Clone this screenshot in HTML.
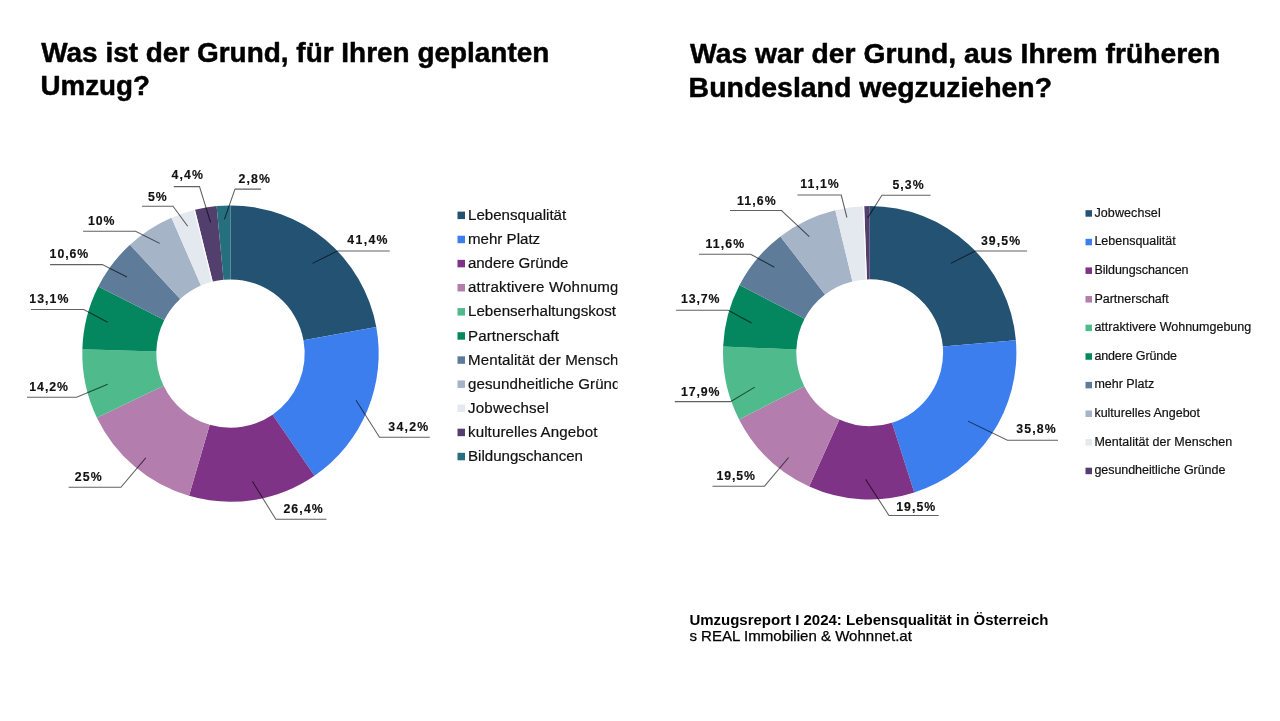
<!DOCTYPE html>
<html><head><meta charset="utf-8"><title>Umzugsreport</title>
<style>html,body{margin:0;padding:0;background:#fff;width:1280px;height:721px;overflow:hidden;}svg{display:block;will-change:transform;}</style>
</head><body>
<svg width="1280" height="721" viewBox="0 0 1280 721">
<defs><clipPath id="cl"><rect x="0" y="0" width="617.5" height="721"/></clipPath></defs>
<style>
text{font-family:"Liberation Sans",sans-serif;fill:#111;}
.t{font-weight:bold;font-size:28.5px;fill:#000;stroke:#000;stroke-width:0.5px;stroke-linejoin:round;}
.lab{font-weight:bold;font-size:12.3px;fill:#111;stroke:#111;stroke-width:0.15px;stroke-linejoin:round;}
.lgL{font-size:15.1px;fill:#111;stroke:#111;stroke-width:0.2px;}
.lgR{font-size:12.5px;fill:#111;stroke:#111;stroke-width:0.2px;}
.f1{font-weight:bold;font-size:15px;fill:#000;}
.f2{font-size:14.2px;fill:#000;stroke:#000;stroke-width:0.25px;}
</style>
<rect width="1280" height="721" fill="#fff"/>
<text class="t" x="41.25" y="61.5" textLength="508.1" lengthAdjust="spacingAndGlyphs">Was ist der Grund, für Ihren geplanten</text>
<text class="t" x="40.5" y="95.25" textLength="109.5" lengthAdjust="spacingAndGlyphs">Umzug?</text>
<text class="t" x="690" y="62.7" textLength="530.2" lengthAdjust="spacingAndGlyphs">Was war der Grund, aus Ihrem früheren</text>
<text class="t" x="688.6" y="96.6" textLength="363.5" lengthAdjust="spacingAndGlyphs">Bundesland wegzuziehen?</text>
<path d="M230.50 205.40A148.2 148.2 0 0 1 376.29 326.99L303.49 340.28A74.2 74.2 0 0 0 230.50 279.40Z" fill="#245273" stroke="none"/>
<path d="M376.29 326.99A148.2 148.2 0 0 1 314.52 475.68L272.57 414.72A74.2 74.2 0 0 0 303.49 340.28Z" fill="#3D7EEE" stroke="none"/>
<path d="M314.52 475.68A148.2 148.2 0 0 1 189.01 495.87L209.73 424.83A74.2 74.2 0 0 0 272.57 414.72Z" fill="#7F3386" stroke="none"/>
<path d="M189.01 495.87A148.2 148.2 0 0 1 96.89 417.73L163.61 385.71A74.2 74.2 0 0 0 209.73 424.83Z" fill="#B37DAD" stroke="none"/>
<path d="M96.89 417.73A148.2 148.2 0 0 1 82.36 349.25L156.33 351.42A74.2 74.2 0 0 0 163.61 385.71Z" fill="#4FBB8C" stroke="none"/>
<path d="M82.36 349.25A148.2 148.2 0 0 1 98.32 286.57L164.32 320.04A74.2 74.2 0 0 0 156.33 351.42Z" fill="#04865F" stroke="none"/>
<path d="M98.32 286.57A148.2 148.2 0 0 1 129.97 244.71L180.17 299.08A74.2 74.2 0 0 0 164.32 320.04Z" fill="#5E7B99" stroke="none"/>
<path d="M129.97 244.71A148.2 148.2 0 0 1 171.47 217.66L200.94 285.54A74.2 74.2 0 0 0 180.17 299.08Z" fill="#A5B4C6" stroke="none"/>
<path d="M171.47 217.66A148.2 148.2 0 0 1 195.01 209.71L212.73 281.56A74.2 74.2 0 0 0 200.94 285.54Z" fill="#E4E8EF" stroke="none"/>
<path d="M195.01 209.71A148.2 148.2 0 0 1 216.59 206.05L223.53 279.73A74.2 74.2 0 0 0 212.73 281.56Z" fill="#523F6E" stroke="none"/>
<line x1="212.15" y1="281.70" x2="194.19" y2="208.88" stroke="#fff" stroke-width="1.1"/>
<path d="M216.59 206.05A148.2 148.2 0 0 1 230.50 205.40L230.50 279.40A74.2 74.2 0 0 0 223.53 279.73Z" fill="#276E7E" stroke="none"/>
<path d="M869.70 206.05A146.7 146.7 0 0 1 1015.87 340.35L942.84 346.54A73.4 73.4 0 0 0 869.70 279.35Z" fill="#245273" stroke="none"/>
<path d="M1015.87 340.35A146.7 146.7 0 0 1 914.24 492.52L891.99 422.68A73.4 73.4 0 0 0 942.84 346.54Z" fill="#3D7EEE" stroke="none"/>
<path d="M914.24 492.52A146.7 146.7 0 0 1 809.19 486.39L839.43 419.62A73.4 73.4 0 0 0 891.99 422.68Z" fill="#7F3386" stroke="none"/>
<path d="M809.19 486.39A146.7 146.7 0 0 1 739.05 419.47L804.33 386.13A73.4 73.4 0 0 0 839.43 419.62Z" fill="#B37DAD" stroke="none"/>
<path d="M739.05 419.47A146.7 146.7 0 0 1 723.14 346.40L796.37 349.58A73.4 73.4 0 0 0 804.33 386.13Z" fill="#4FBB8C" stroke="none"/>
<path d="M723.14 346.40A146.7 146.7 0 0 1 739.56 285.05L804.58 318.87A73.4 73.4 0 0 0 796.37 349.58Z" fill="#04865F" stroke="none"/>
<path d="M739.56 285.05A146.7 146.7 0 0 1 780.38 236.38L825.01 294.52A73.4 73.4 0 0 0 804.58 318.87Z" fill="#5E7B99" stroke="none"/>
<path d="M780.38 236.38A146.7 146.7 0 0 1 835.25 210.15L852.46 281.40A73.4 73.4 0 0 0 825.01 294.52Z" fill="#A5B4C6" stroke="none"/>
<path d="M835.25 210.15A146.7 146.7 0 0 1 864.18 206.15L866.94 279.40A73.4 73.4 0 0 0 852.46 281.40Z" fill="#E4E8EF" stroke="none"/>
<path d="M864.18 206.15A146.7 146.7 0 0 1 869.70 206.05L869.70 279.35A73.4 73.4 0 0 0 866.94 279.40Z" fill="#523F6E" stroke="none"/>
<line x1="866.34" y1="279.42" x2="863.54" y2="205.18" stroke="#fff" stroke-width="1.1"/>
<polyline points="312.5,263.4 337.5,250.9 389.8,250.9" fill="none" stroke="rgba(0,0,0,0.62)" stroke-width="1.05"/>
<text x="347.30" y="243.8" class="lab" textLength="40.2" lengthAdjust="spacing">41,4%</text>
<polyline points="356,400.2 379.5,437.3 429.8,437.3" fill="none" stroke="rgba(0,0,0,0.62)" stroke-width="1.05"/>
<text x="388.30" y="430.8" class="lab" textLength="40.0" lengthAdjust="spacing">34,2%</text>
<polyline points="252.3,481.2 275.8,519.3 326.5,519.3" fill="none" stroke="rgba(0,0,0,0.62)" stroke-width="1.05"/>
<text x="283.40" y="513.3" class="lab" textLength="39.4" lengthAdjust="spacing">26,4%</text>
<polyline points="145.8,457.8 120.9,487.3 68.6,487.3" fill="none" stroke="rgba(0,0,0,0.62)" stroke-width="1.05"/>
<text x="74.80" y="480.6" class="lab" textLength="27.0" lengthAdjust="spacing">25%</text>
<polyline points="107.7,384.2 76.6,397.2 27,397.2" fill="none" stroke="rgba(0,0,0,0.62)" stroke-width="1.05"/>
<text x="29.30" y="390.9" class="lab" textLength="38.7" lengthAdjust="spacing">14,2%</text>
<polyline points="107.7,322.2 83.7,309.5 30.9,309.5" fill="none" stroke="rgba(0,0,0,0.62)" stroke-width="1.05"/>
<text x="29.30" y="303" class="lab" textLength="39.1" lengthAdjust="spacing">13,1%</text>
<polyline points="127,277 102.3,264.6 50.1,264.6" fill="none" stroke="rgba(0,0,0,0.62)" stroke-width="1.05"/>
<text x="49.60" y="257.8" class="lab" textLength="38.7" lengthAdjust="spacing">10,6%</text>
<polyline points="159.7,243.4 135.6,231.2 83.1,231.2" fill="none" stroke="rgba(0,0,0,0.62)" stroke-width="1.05"/>
<text x="88.05" y="225.2" class="lab" textLength="26.4" lengthAdjust="spacing">10%</text>
<polyline points="187.7,226.2 173,206.3 142.1,206.3" fill="none" stroke="rgba(0,0,0,0.62)" stroke-width="1.05"/>
<text x="148.05" y="200.8" class="lab" textLength="18.6" lengthAdjust="spacing">5%</text>
<polyline points="210.6,222.5 199.5,186.6 173.75,186.6" fill="none" stroke="rgba(0,0,0,0.62)" stroke-width="1.05"/>
<text x="171.50" y="179.1" class="lab" textLength="31.5" lengthAdjust="spacing">4,4%</text>
<polyline points="224.4,219.4 235,189.1 261.1,189.1" fill="none" stroke="rgba(0,0,0,0.62)" stroke-width="1.05"/>
<text x="238.40" y="182.5" class="lab" textLength="31.5" lengthAdjust="spacing">2,8%</text>
<polyline points="950.9,263.4 975.2,251 1027.1,251" fill="none" stroke="rgba(0,0,0,0.62)" stroke-width="1.05"/>
<text x="980.90" y="244.8" class="lab" textLength="39.2" lengthAdjust="spacing">39,5%</text>
<polyline points="967.9,421.1 1007.4,440.2 1058,440.2" fill="none" stroke="rgba(0,0,0,0.62)" stroke-width="1.05"/>
<text x="1016.20" y="433.3" class="lab" textLength="39.4" lengthAdjust="spacing">35,8%</text>
<polyline points="865.6,479.4 889,515.5 938.7,515.5" fill="none" stroke="rgba(0,0,0,0.62)" stroke-width="1.05"/>
<text x="896.20" y="510.5" class="lab" textLength="39.0" lengthAdjust="spacing">19,5%</text>
<polyline points="788.6,457.5 764.5,486.2 712.5,486.2" fill="none" stroke="rgba(0,0,0,0.62)" stroke-width="1.05"/>
<text x="716.40" y="479.5" class="lab" textLength="38.5" lengthAdjust="spacing">19,5%</text>
<polyline points="754.8,387.1 730.5,401.6 674.8,401.6" fill="none" stroke="rgba(0,0,0,0.62)" stroke-width="1.05"/>
<text x="680.90" y="396.25" class="lab" textLength="38.5" lengthAdjust="spacing">17,9%</text>
<polyline points="751.5,323 728.2,310.2 676.1,310.2" fill="none" stroke="rgba(0,0,0,0.62)" stroke-width="1.05"/>
<text x="680.90" y="302.7" class="lab" textLength="38.5" lengthAdjust="spacing">13,7%</text>
<polyline points="774.3,267.2 750.7,254.2 698.9,254.2" fill="none" stroke="rgba(0,0,0,0.62)" stroke-width="1.05"/>
<text x="705.40" y="247.9" class="lab" textLength="38.7" lengthAdjust="spacing">11,6%</text>
<polyline points="809.3,236.6 781.5,210.5 730,210.5" fill="none" stroke="rgba(0,0,0,0.62)" stroke-width="1.05"/>
<text x="737.00" y="204.6" class="lab" textLength="38.6" lengthAdjust="spacing">11,6%</text>
<polyline points="846.9,217.5 841.25,195 797.5,195" fill="none" stroke="rgba(0,0,0,0.62)" stroke-width="1.05"/>
<text x="800.30" y="188.1" class="lab" textLength="38.5" lengthAdjust="spacing">11,1%</text>
<polyline points="867.5,218.1 881.9,195.25 930.6,195.25" fill="none" stroke="rgba(0,0,0,0.62)" stroke-width="1.05"/>
<text x="892.40" y="188.5" class="lab" textLength="31.3" lengthAdjust="spacing">5,3%</text>
<g clip-path="url(#cl)">
<rect x="457.5" y="211.60" width="7.5" height="7.5" fill="#245273"/>
<text x="468.0" y="220.00" class="lgL">Lebensqualität</text>
<rect x="457.5" y="235.72" width="7.5" height="7.5" fill="#3D7EEE"/>
<text x="468.0" y="244.12" class="lgL">mehr Platz</text>
<rect x="457.5" y="259.84" width="7.5" height="7.5" fill="#7F3386"/>
<text x="468.0" y="268.24" class="lgL" textLength="100.45" lengthAdjust="spacing">andere Gründe</text>
<rect x="457.5" y="283.96" width="7.5" height="7.5" fill="#B37DAD"/>
<text x="468.0" y="292.36" class="lgL" textLength="150.4" lengthAdjust="spacing">attraktivere Wohnumg</text>
<rect x="457.5" y="308.08" width="7.5" height="7.5" fill="#4FBB8C"/>
<text x="468.0" y="316.48" class="lgL" textLength="148.0" lengthAdjust="spacing">Lebenserhaltungskost</text>
<rect x="457.5" y="332.20" width="7.5" height="7.5" fill="#04865F"/>
<text x="468.0" y="340.60" class="lgL" textLength="90.9" lengthAdjust="spacing">Partnerschaft</text>
<rect x="457.5" y="356.32" width="7.5" height="7.5" fill="#5E7B99"/>
<text x="468.0" y="364.72" class="lgL" textLength="150.5" lengthAdjust="spacing">Mentalität der Mensch</text>
<rect x="457.5" y="380.44" width="7.5" height="7.5" fill="#A5B4C6"/>
<text x="468.0" y="388.84" class="lgL" textLength="152.5" lengthAdjust="spacing">gesundheitliche Gründ</text>
<rect x="457.5" y="404.56" width="7.5" height="7.5" fill="#E4E8EF"/>
<text x="468.0" y="412.96" class="lgL" textLength="80.8" lengthAdjust="spacing">Jobwechsel</text>
<rect x="457.5" y="428.68" width="7.5" height="7.5" fill="#523F6E"/>
<text x="468.0" y="437.08" class="lgL" textLength="129.5" lengthAdjust="spacing">kulturelles Angebot</text>
<rect x="457.5" y="452.80" width="7.5" height="7.5" fill="#276E7E"/>
<text x="468.0" y="461.20" class="lgL">Bildungschancen</text>
</g>
<rect x="1085.5" y="210.20" width="6.5" height="6.5" fill="#245273"/>
<text x="1094.4" y="216.80" class="lgR" textLength="66.3" lengthAdjust="spacing">Jobwechsel</text>
<rect x="1085.5" y="238.81" width="6.5" height="6.5" fill="#3D7EEE"/>
<text x="1094.4" y="245.41" class="lgR">Lebensqualität</text>
<rect x="1085.5" y="267.42" width="6.5" height="6.5" fill="#7F3386"/>
<text x="1094.4" y="274.02" class="lgR" textLength="94.1" lengthAdjust="spacing">Bildungschancen</text>
<rect x="1085.5" y="296.03" width="6.5" height="6.5" fill="#B37DAD"/>
<text x="1094.4" y="302.63" class="lgR">Partnerschaft</text>
<rect x="1085.5" y="324.64" width="6.5" height="6.5" fill="#4FBB8C"/>
<text x="1094.4" y="331.24" class="lgR">attraktivere Wohnumgebung</text>
<rect x="1085.5" y="353.25" width="6.5" height="6.5" fill="#04865F"/>
<text x="1094.4" y="359.85" class="lgR" textLength="82.5" lengthAdjust="spacing">andere Gründe</text>
<rect x="1085.5" y="381.86" width="6.5" height="6.5" fill="#5E7B99"/>
<text x="1094.4" y="388.46" class="lgR">mehr Platz</text>
<rect x="1085.5" y="410.47" width="6.5" height="6.5" fill="#A5B4C6"/>
<text x="1094.4" y="417.07" class="lgR">kulturelles Angebot</text>
<rect x="1085.5" y="439.08" width="6.5" height="6.5" fill="#E4E8EF"/>
<text x="1094.4" y="445.68" class="lgR" textLength="137.8" lengthAdjust="spacing">Mentalität der Menschen</text>
<rect x="1085.5" y="467.69" width="6.5" height="6.5" fill="#523F6E"/>
<text x="1094.4" y="474.29" class="lgR" textLength="130.95" lengthAdjust="spacing">gesundheitliche Gründe</text>
<text class="f1" x="689.4" y="624.8" textLength="359.1" lengthAdjust="spacingAndGlyphs">Umzugsreport I 2024: Lebensqualität in Österreich</text>
<text class="f2" x="689.4" y="641" textLength="222.5" lengthAdjust="spacingAndGlyphs">s REAL Immobilien &amp; Wohnnet.at</text>
</svg>
</body></html>
